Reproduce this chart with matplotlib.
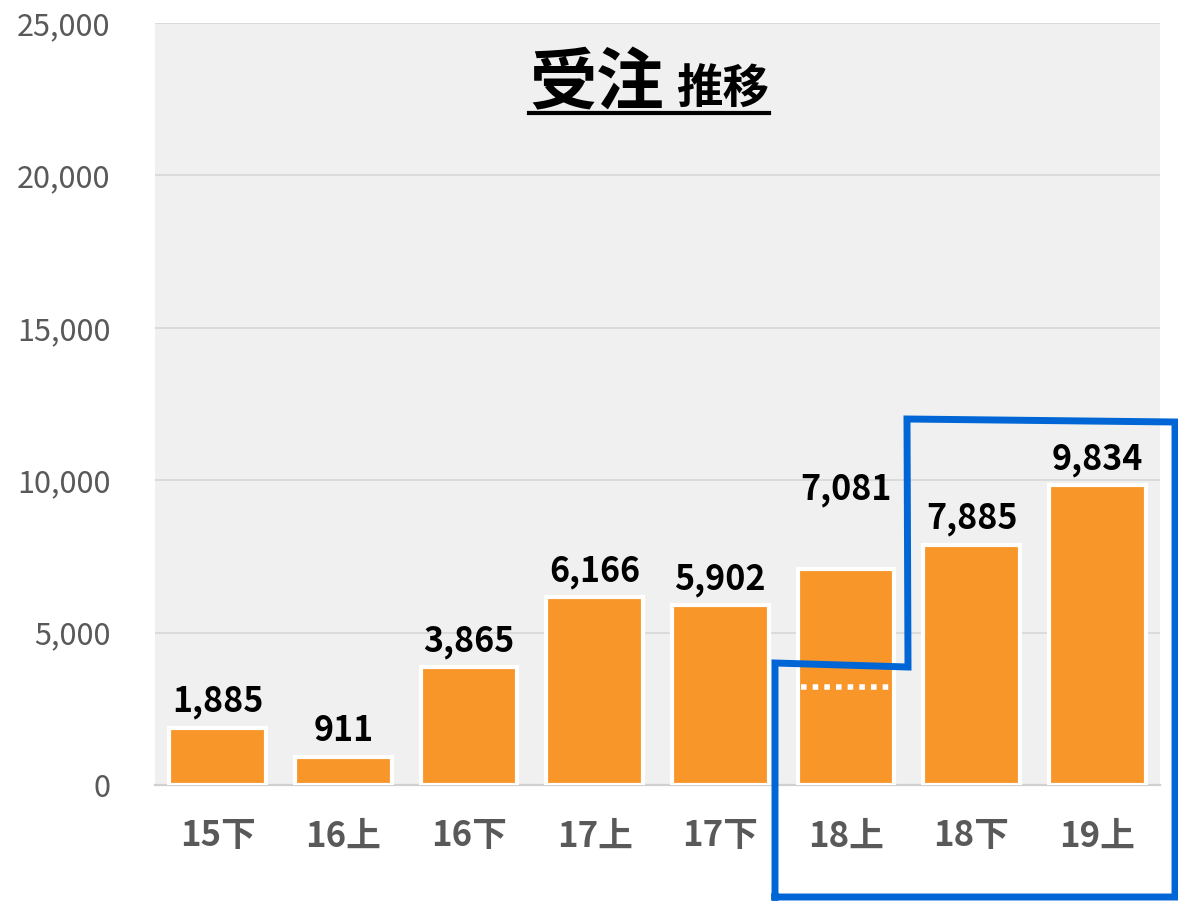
import matplotlib
matplotlib.use("Agg")
import matplotlib.pyplot as plt
from matplotlib.lines import Line2D
from matplotlib.ticker import FuncFormatter

plt.rcParams['font.family'] = ['Noto Sans CJK JP', 'DejaVu Sans']

# data
periods = ["15下", "16上", "16下", "17上", "17下", "18上", "18下", "19上"]
orders = [1885, 911, 3865, 6166, 5902, 7081, 7885, 9834]
ref_line_period = "18上"
ref_line_value = 3200
y_ticks = [0, 5000, 10000, 15000, 20000, 25000]

BAR = "#f8962a"
GRID = "#d9d9d9"
GREY = "#595959"
BLUE = "#0066d6"

W, H = 1178, 902
fig = plt.figure(figsize=(W / 100, H / 100), dpi=100)
ax = fig.add_axes([155 / W, 1 - 785 / H, (1160 - 155) / W, (785 - 23) / H])
ax.set_facecolor("#f0f0f0")

x = list(range(len(periods)))
ax.bar(x, orders, width=0.77, color=BAR, edgecolor="white", linewidth=3, zorder=3)

# dotted marker inside the 18上 bar
i_ref = periods.index(ref_line_period)
ax.hlines(ref_line_value, i_ref - 0.36, i_ref + 0.36, colors="white",
          linestyles=(0, (1, 1.1)), linewidth=4, zorder=4)

# value labels (18上 pushed up so it clears the highlight box)
lift = {5: 50}
for i, v in enumerate(orders):
    ax.annotate(f"{v:,}", (i, v), xytext=(0, lift.get(i, 11.5)), textcoords="offset points",
                ha="center", va="baseline", fontsize=24.5, fontweight="bold",
                color="black", zorder=5)

ax.set_xlim(-0.5, len(periods) - 0.5)
ax.set_ylim(0, 25000)
ax.set_yticks(y_ticks)
ax.yaxis.set_major_formatter(FuncFormatter(lambda v, p: f"{int(v):,}"))
ax.set_xticks(x)
ax.set_xticklabels(periods, fontsize=25, fontweight="bold", color=GREY)
for lab in ax.get_yticklabels():
    lab.set_fontsize(22)
    lab.set_color(GREY)
ax.tick_params(axis="y", length=0, pad=32)
ax.tick_params(axis="x", length=0, pad=24)
ax.grid(axis="y", color=GRID, linewidth=1.3, zorder=0)
ax.set_axisbelow(True)
for s in ["top", "right", "left"]:
    ax.spines[s].set_visible(False)
ax.spines["bottom"].set_color("#d0d0d0")
ax.spines["bottom"].set_linewidth(1.6)
ax.spines["bottom"].set_zorder(2)

# title: 受注 (large) + 推移 (small), underlined
base_y = 1 - 104 / H
t1 = fig.text(664 / W, base_y, "受注", ha="right", va="baseline",
              fontsize=48.5, fontweight="bold", color="black")
t2 = fig.text(676 / W, base_y, "推移", ha="left", va="baseline",
              fontsize=33.5, fontweight="bold", color="black")
fig.canvas.draw()
r = fig.canvas.get_renderer()
b1 = t1.get_window_extent(r)
b2 = t2.get_window_extent(r)
uy = 1 - 113 / H
fig.add_artist(Line2D([b1.x0 / W, b2.x1 / W], [uy, uy], color="black", linewidth=3))

# blue highlight outline around the latest periods
box_px = [(775, 897), (775, 663), (908, 667), (907, 419), (1175, 422), (1175, 897), (775, 897)]
fig.add_artist(Line2D([p[0] / W for p in box_px], [1 - p[1] / H for p in box_px],
                      color=BLUE, linewidth=5, solid_joinstyle="miter"))

fig.savefig("out.png", dpi=100)
